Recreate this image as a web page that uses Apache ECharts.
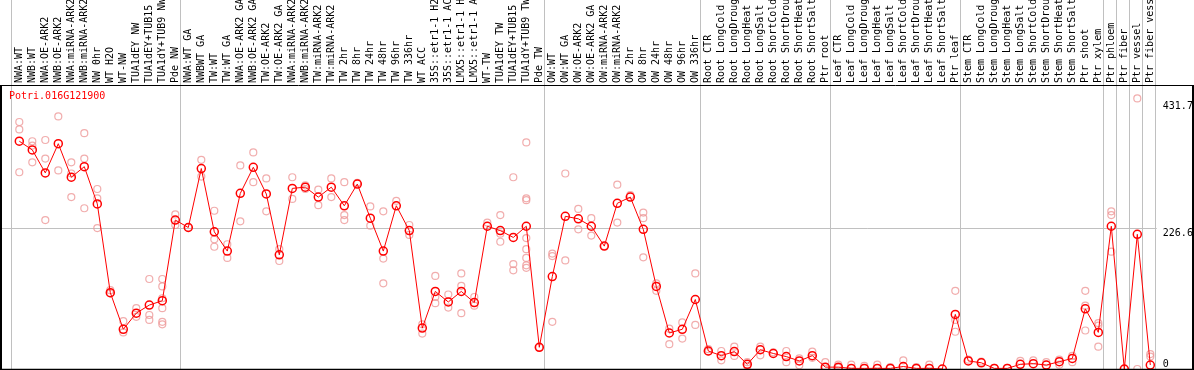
<!DOCTYPE html>
<html><head><meta charset="utf-8">
<script src="https://cdn.jsdelivr.net/npm/echarts@6/dist/echarts.min.js"></script>
<style>html,body{margin:0;padding:0;background:#fff}#c{width:1194px;height:370px}</style>
</head><body><div id="c"></div>
<script>
const geneName = 'Potri.016G121900';
const categories = [
  'NWA:WT','NWB:WT','NWA:OE-ARK2','NWB:OE-ARK2','NWA:miRNA-ARK2','NWB:miRNA-ARK2','NW 0hr','WT H2O','WT-NW','TUA1dEY NW','TUA1dEY+TUB15 NW','TUA1dY+TUB9 NW','Pde NW',
  'NWA:WT GA','NWBWT GA','TW:WT','TW:WT GA','NWA:OE-ARK2 GA','NWB:OE-ARK2 GA','TW:OE-ARK2','TW:OE-ARK2 GA','NWA:miRNA-ARK2','NWB:miRNA-ARK2','TW:miRNA-ARK2','TW:miRNA-ARK2','TW 2hr','TW 8hr','TW 24hr','TW 48hr','TW 96hr','TW 336hr','WT ACC','35S::etr1-1 H2O','35S::etr1-1 ACC','LMX5::etr1-1 H2O','LMX5::etr1-1 ACC','WT-TW','TUA1dEY TW','TUA1dEY+TUB15 TW','TUA1dY+TUB9 TW','Pde TW',
  'OW:WT','OW:WT GA','OW:OE-ARK2','OW:OE-ARK2 GA','OW:miRNA-ARK2','OW:miRNA-ARK2','OW 2hr','OW 8hr','OW 24hr','OW 48hr','OW 96hr','OW 336hr',
  'Root CTR','Root LongCold','Root LongDrought','Root LongHeat','Root LongSalt','Root ShortCold','Root ShortDrought','Root ShortHeat','Root ShortSalt','Ptr root',
  'Leaf CTR','Leaf LongCold','Leaf LongDrought','Leaf LongHeat','Leaf LongSalt','Leaf ShortCold','Leaf ShortDrought','Leaf ShortHeat','Leaf ShortSalt','Ptr leaf',
  'Stem CTR','Stem LongCold','Stem LongDrought','Stem LongHeat','Stem LongSalt','Stem ShortCold','Stem ShortDrought','Stem ShortHeat','Stem ShortSalt','Ptr shoot','Ptr xylem',
  'Ptr phloem','Ptr fiber','Ptr vessel','Ptr fiber vessel'
];
const means = [
  367,353,316,363,309,326,266,123,64,90,103,110,240,
  228,323,221,190,283,325,282,184,291,293,277,293,263,298,243,190,263,223,66,125,108,125,107,230,223,212,230,35,
  149,246,242,230,198,267,277,225,133,58,64,112,
  29,21.5,28,7.5,31,25,20,13,21.5,3,
  3,1,1,1,1,4,1,1,0,88,
  13,10,1,1,7.5,8.6,6.4,11.8,17,97,59,
  230,0,217,6.4
];
const replicates = [
  [398,386,317],[367,360,333],[369,339,240],[407,320],[333,315,277],[380,339,259],[290,275,227],[127,122],[77,59],[98,84],[145,87,79],[145,133,114,98,76,72],[249,232],
  [228],[337,310],[255,209,197],[201,179],[328,238],[349,301],[307,254],[193,174],[309,274],[296,290],[289,264],[307,277],[301,248,240],[300],[262,231],[254,178,138],[271],[232,216],[72,57],[150,116,106],[120,99],[154,134,90],[116,102],[236],[248,218,205],[309,169,159],[365,275,272,211,193,179,167,163],[35],
  [186,182,76],[315,175],[258,225],[243,215],[198],[297,236],[280],[252,243,180],[138,126],[65,40],[75,49],[154,71],
  [32,28],[29,14],[36,21],[11,5],[36,22],[27],[29,11],[17,6],[28,18],[11,3],
  [7,2],[7],[5],[7],[3],[14],[3],[7],[],[126,79,60],
  [15],[12],[2],[2],[13],[14],[11],[15,7],[21,11],[126,102,62],[74,70,36],
  [254,248,189],[0],[436,0],[24,20]
];
const yTickLabels = [226.6, 431.7];
const yZeroLabel = [0];
const yMax = 457.6;
const hGridValues = [226.6];
const groupEnds = [-1, 12, 40, 52, 62, 72, 83, 84, 85, 86, 87];

const FONT = 'DejaVu Sans Mono';
const chart = echarts.init(document.getElementById('c'), null, {renderer: 'canvas'});
const scatterData = [];
replicates.forEach((arr, i) => arr.forEach(v => scatterData.push([i, v])));

const option = {
  animation: false,
  backgroundColor: '#fff',
  title: {
    text: geneName, left: 9, top: 91, padding: 0,
    textStyle: {color: '#ff0000', fontFamily: FONT, fontSize: 10, fontWeight: 'normal'}
  },
  grid: {left: 12.8, right: 37.2, top: 85, bottom: 1, containLabel: false, outerBoundsMode: 'none'},
  xAxis: [{
    type: 'category', data: categories, position: 'top', boundaryGap: true,
    axisLine: {show: false}, axisTick: {show: false}, splitLine: {show: false},
    axisLabel: {interval: 0, rotate: 90, margin: 2, color: '#000', fontFamily: FONT, fontSize: 10, hideOverlap: false}
  }],
  yAxis: [{
    type: 'value', min: 0, max: yMax, position: 'right',
    axisLine: {show: false}, axisTick: {show: false}, splitLine: {show: false},
    axisLabel: {customValues: yTickLabels, margin: 6, color: '#000', fontFamily: FONT, fontSize: 10, verticalAlign: 'top',
      formatter: v => String(v)}
  }, {
    type: 'value', min: 0, max: yMax, position: 'right', offset: 0,
    axisLine: {show: false}, axisTick: {show: false}, splitLine: {show: false},
    axisLabel: {customValues: yZeroLabel, margin: 6, color: '#000', fontFamily: FONT, fontSize: 10, verticalAlign: 'bottom',
      formatter: v => String(v)}
  }],
  series: [{
    type: 'scatter', data: scatterData, symbol: 'circle', symbolSize: 7,
    itemStyle: {color: 'rgba(0,0,0,0)', borderColor: '#ee9999', borderWidth: 1.2},
    clip: false, z: 2
  }, {
    type: 'line', data: means, symbol: 'circle', symbolSize: 8, showAllSymbol: true,
    lineStyle: {color: '#ff0000', width: 1},
    itemStyle: {color: 'rgba(0,0,0,0)', borderColor: '#ff0000', borderWidth: 1.5},
    clip: false, z: 3
  }]
};
chart.setOption(option);

const px0 = chart.convertToPixel({xAxisIndex: 0}, 0);
const px1 = chart.convertToPixel({xAxisIndex: 0}, 1);
const bw = px1 - px0;
const gridRight = px0 + (categories.length - 0.5) * bw;
const lineOffset = 5;
const gray = '#c0c0c0';
const graphics = [];
groupEnds.forEach(g => {
  const x = Math.round(px0 + g * bw + lineOffset) + 0.5;
  graphics.push({type: 'line', shape: {x1: x, y1: 0, x2: x, y2: 369}, style: {stroke: gray, lineWidth: 1}, z: 0});
});
hGridValues.forEach(v => {
  const y = Math.round(chart.convertToPixel({yAxisIndex: 0}, v)) + 0.5;
  graphics.push({type: 'line', shape: {x1: 1, y1: y, x2: gridRight, y2: y}, style: {stroke: gray, lineWidth: 1}, z: 0});
});
// frame
graphics.push({type: 'line', shape: {x1: 0, y1: 85.5, x2: 1194, y2: 85.5}, style: {stroke: '#000', lineWidth: 1}, z: 10});
graphics.push({type: 'line', shape: {x1: 1, y1: 85, x2: 1, y2: 370}, style: {stroke: '#000', lineWidth: 2}, z: 10});
graphics.push({type: 'line', shape: {x1: 1193, y1: 85, x2: 1193, y2: 370}, style: {stroke: '#000', lineWidth: 2}, z: 10});
graphics.push({type: 'line', shape: {x1: 0, y1: 369.5, x2: 1194, y2: 369.5}, style: {stroke: '#000', lineWidth: 1.5}, z: 10});
chart.setOption({graphic: graphics});
</script>
</body></html>
